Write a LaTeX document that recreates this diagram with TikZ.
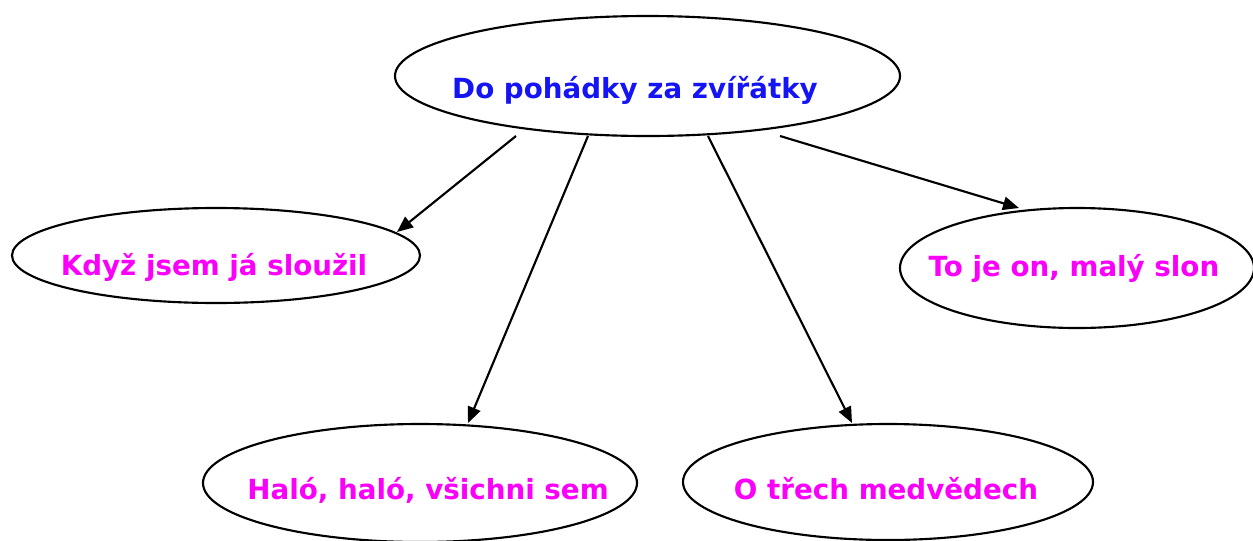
\documentclass[tikz,border=0pt]{standalone}
\usepackage{fontspec}
\setmainfont{DejaVu Sans}
\usetikzlibrary{arrows.meta}
\definecolor{titleblue}{RGB}{20,20,245}
\definecolor{pinktext}{RGB}{250,0,250}
\tikzset{
  oval/.style={draw=black, line width=1.6pt},
  titletext/.style={anchor=base, inner sep=0pt, text=titleblue, font=\bfseries\fontsize{20.8}{24}\selectfont},
  leaftext/.style={anchor=base, inner sep=0pt, text=pinktext, font=\bfseries\fontsize{20.8}{24}\selectfont},
  link/.style={line width=1.6pt, -{Triangle[length=12pt,width=10pt]}}
}
\begin{document}
\begin{tikzpicture}[x=0.75pt,y=-0.75pt]
\useasboundingbox (0,0) rectangle (1253,540);
% ellipses
\draw[oval] (647.5,76) ellipse [x radius=252.5, y radius=60];
\draw[oval] (216,255.5) ellipse [x radius=204, y radius=47.5];
\draw[oval] (1077,268) ellipse [x radius=177, y radius=60];
\draw[oval] (420,483) ellipse [x radius=217, y radius=59];
\draw[oval] (888,482) ellipse [x radius=205, y radius=58];
% texts
\node[titletext] (root) at (635,98) {Do pohádky za zvířátky};
\node[leaftext] (kdyz) at (214,275) {Když jsem já sloužil};
\node[leaftext] (slon) at (1074,276) {To je on, malý slon};
\node[leaftext] (halo) at (428,499) {Haló, haló, všichni sem};
\node[leaftext] (medv) at (886,499) {O třech medvědech};
% connector ends
\coordinate (s1) at (516,136);
\coordinate (s2) at (588,136);
\coordinate (s3) at (708,136);
\coordinate (s4) at (780,136);
\coordinate (e1) at (397,232);
\coordinate (e2) at (468,423);
\coordinate (e3) at (852,423);
\coordinate (e4) at (1019,208);
\draw[link] (s1) -- (e1);
\draw[link] (s2) -- (e2);
\draw[link] (s3) -- (e3);
\draw[link] (s4) -- (e4);
\end{tikzpicture}
\end{document}
